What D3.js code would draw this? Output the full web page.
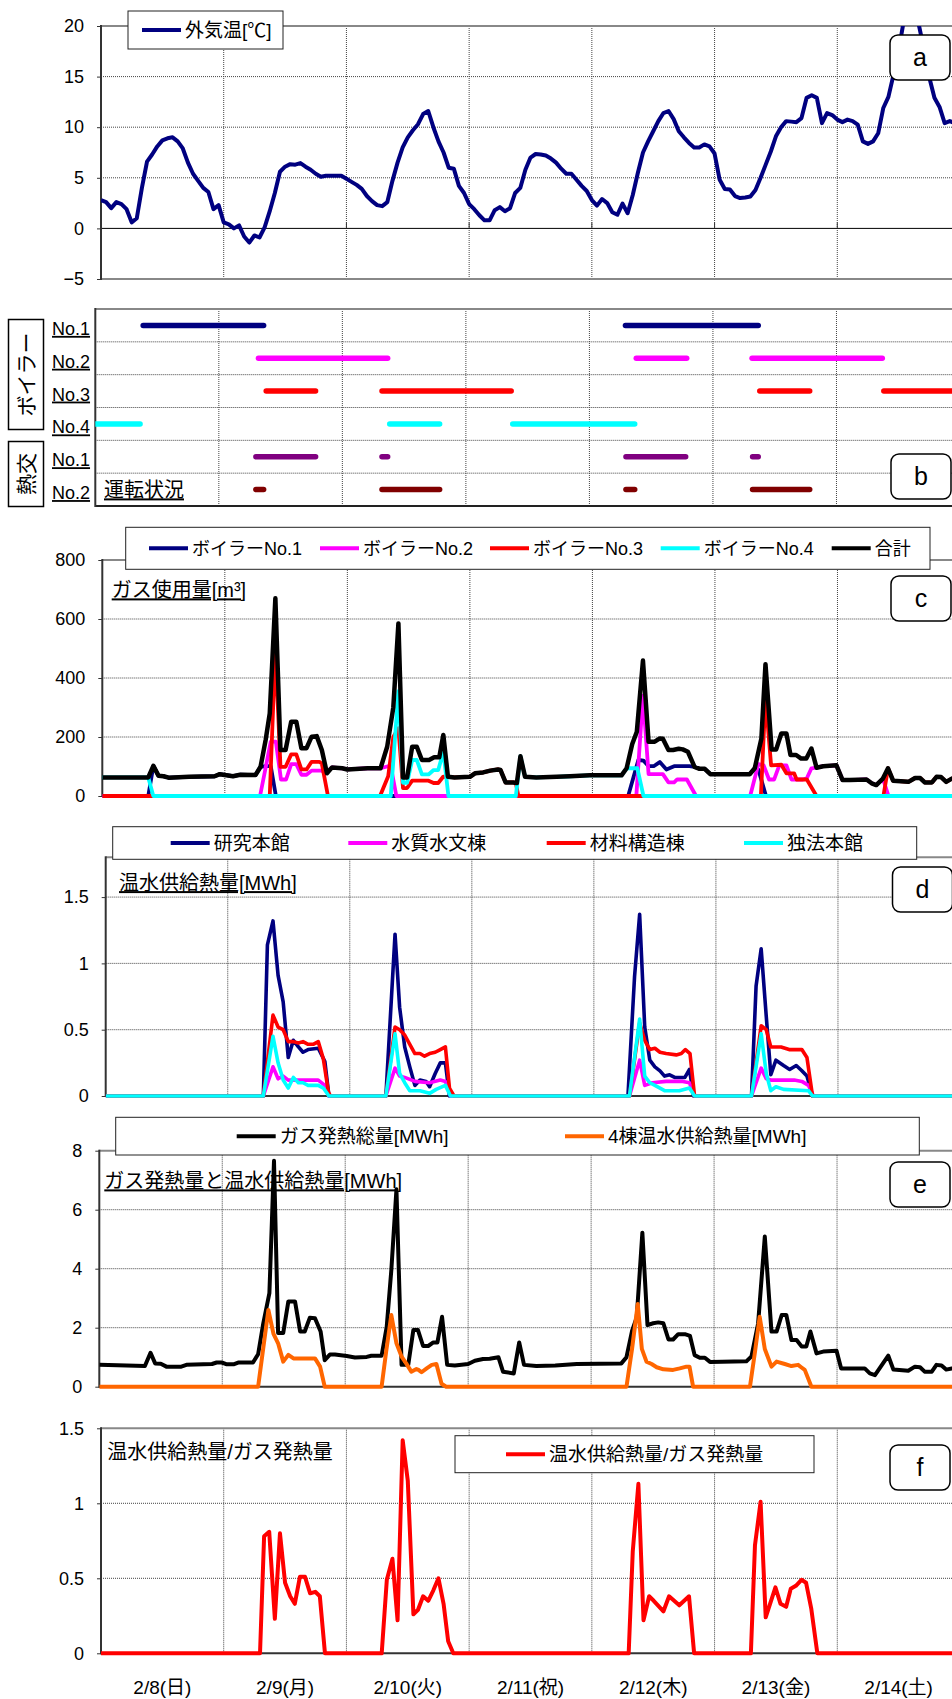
<!DOCTYPE html>
<meta charset="utf-8">
<style>
body { margin: 0; background: #fff; }
svg text { font-family: "Liberation Sans", "Noto Sans CJK JP", sans-serif; fill: #000; }
.grid { stroke: #444; stroke-dasharray: 1,1; stroke-width: 1; }
.series { fill: none; stroke-linejoin: round; }
.box { fill: #fff; stroke: #222; stroke-width: 1; }
.tag { fill: #fff; stroke: #000; stroke-width: 1.5; }
</style>
<svg width="952" height="1699"></svg>
<script src="https://d3js.org/d3.v7.min.js"></script>
<script>
// ---- data (hour 0 = 2/8 0:00) ----
var days = ["2/8(日)", "2/9(月)", "2/10(火)", "2/11(祝)", "2/12(木)", "2/13(金)", "2/14(土)"];

// a: outside temperature, hourly
var tempC = [2.8,2.6,2.0,2.6,2.4,1.9,0.6,1.0,4.0,6.6,
  7.3,8.1,8.7,8.9,9.0,8.6,7.9,6.5,5.4,4.7,
  4.0,3.6,1.9,2.3,0.6,0.4,0.0,0.3,-0.8,-1.4,
  -0.7,-0.9,0.1,1.7,3.5,5.6,6.1,6.35,6.3,6.45,
  6.1,5.8,5.4,5.1,5.2,5.2,5.2,5.2,4.9,4.6,
  4.3,3.9,3.2,2.7,2.3,2.2,2.6,4.7,6.5,8.0,
  9.0,9.7,10.3,11.3,11.6,10.0,8.6,7.5,6.0,5.9,
  4.2,3.5,2.4,1.9,1.3,0.8,0.8,1.8,2.1,1.7,
  2.0,3.5,4.0,5.8,7.0,7.35,7.3,7.2,6.9,6.5,
  5.9,5.4,5.4,4.8,4.2,3.7,2.8,2.25,2.9,2.5,
  1.6,1.35,2.45,1.5,3.3,5.5,7.5,8.6,9.6,10.6,
  11.4,11.6,10.8,9.6,9.0,8.45,8.0,8.0,8.3,8.1,
  7.4,4.8,3.9,3.85,3.2,3.0,3.05,3.15,3.8,5.0,
  6.3,7.6,9.1,10.0,10.6,10.55,10.5,10.9,12.9,13.15,
  12.9,10.4,11.4,11.2,10.75,10.5,10.75,10.6,10.25,8.6,
  8.35,8.6,9.4,11.9,13.0,15.2,17.6,20.5,21.5,21.5,
  20,17.6,14.9,12.9,12.0,10.4,10.6,10.4];

// b: running periods [start hour, end hour]
var rowNames = ["No.1", "No.2", "No.3", "No.4", "No.1", "No.2"];
var runBoiler1 = [[9.3, 32.7], [103, 128.8]];
var runBoiler2 = [[31.7, 56.8], [105.1, 114.9], [127.6, 152.9]];
var runBoiler3 = [[33.2, 42.8], [55.7, 80.8], [129.1, 138.8], [153.2, 170]];
var runBoiler4 = [[-2, 8.7], [57.2, 66.9], [81.1, 104.8]];
var runHx1 = [[31.2, 42.8], [55.7, 56.8], [103.1, 114.7], [127.7, 128.8]];
var runHx2 = [[31.2, 32.7], [55.7, 66.9], [103.1, 104.8], [127.7, 138.8]];

// c: gas use [m3], [hour, value]
var gasNames = ["ボイラーNo.1", "ボイラーNo.2", "ボイラーNo.3", "ボイラーNo.4", "合計"];
var gasB1 = [[0,0],[9,0],[10,102],[11,69],[12,67],[13,62],[17,65],[22,67],[23,74],[25.6,67],[27,72],[30,71],[31,99],[32,101],[33,101],[34,0],[103,0],[105,122],[106,120],[107,101],[108,101],[109.2,115],[110.5,90],[112,101],[115,101],[116,99],[117,92],[118,92],[119.1,74],[126.8,74],[127.8,94],[128.5,90],[130,0],[168,0]];
var gasB2 = [[0,0],[30.9,0],[33,184],[34,184],[35,56],[36,56],[37,108],[38,108],[39,72],[40,72],[41,86],[43,86],[43.6,77],[45,97],[47,94],[48,90],[52,94],[54.5,94],[55.8,100],[56.5,101],[57.6,0],[104.6,0],[105.9,340],[107,74],[109.8,74],[110.9,46],[112,46],[112.6,56],[114.5,56],[116.3,0],[126.9,0],[128.5,108],[129.5,105],[130.6,56],[131.6,56],[132.6,104],[134,104],[135,56],[137.2,56],[138,60],[138.9,94],[139.9,96],[141.2,101],[143.8,104],[145,54],[146.4,54],[149.7,56],[150.7,43],[151.6,37],[152.9,59],[154,0],[168,0]];
var gasB3 = [[0,0],[32.8,0],[33.9,500],[34.9,99],[35.9,99],[37,141],[38,141],[39,90],[40,90],[41,116],[42.5,116],[43,110],[44.2,0],[54.4,0],[56,67],[57,200],[58,230],[58.9,27],[59.7,27],[60.7,52],[63.9,52],[64.9,44],[65.8,44],[66.8,66],[67.7,65],[69,63],[72,65],[73,77],[74.6,80],[76,86],[77.5,90],[78,88],[79,46],[80.5,46],[81,44],[81.5,0],[129,0],[129.9,335],[131,104],[133,106],[134,77],[135.5,77],[136,56],[138,56],[139.9,0],[153,0],[153.9,94],[154.9,52],[157.9,48],[159.2,61],[160.2,61],[161.1,46],[162.5,46],[163.4,65],[164.3,64],[165.3,48],[166.4,59],[168,57]];
var gasB4 = [[0,63],[9,63],[10,0],[56.5,0],[58,355],[58.9,45],[59.7,45],[60.7,122],[61.6,122],[62.6,73],[63.9,73],[64.9,88],[65.8,88],[66.8,150],[67.8,0],[81,0],[81.9,135],[82.8,65],[85,63],[89,65],[91.6,67],[95.5,70],[101.7,70],[102.7,94],[104.8,94],[106,0],[168,0]];
var gasTotal = [[0,63],[9,63],[10,102],[11,69],[12,67],[13,62],[17,65],[22,67],[23,74],[25.6,67],[27,72],[30,71],[31,99],[32,190],[32.8,280],[33.9,670],[34.9,156],[35.9,156],[37,252],[38,252],[39,162],[40,162],[41,201],[42,203],[43,156],[44,77],[45,97],[47,94],[48,90],[52,94],[54.5,94],[55.8,167],[57,300],[58,585],[58.9,63],[59.7,63],[60.7,167],[61.6,167],[62.6,122],[64,122],[65,131],[66,131],[66.8,207],[67.7,65],[69,63],[72,65],[73,77],[74.6,80],[76,86],[77.5,90],[78,88],[79,46],[80.5,46],[81.2,44],[81.9,135],[82.8,65],[85,63],[89,65],[91.6,67],[95.5,70],[101.7,70],[102.7,94],[103.8,176],[104.7,218],[105.9,459],[107,184],[108.2,184],[109.2,195],[109.8,194],[110.9,156],[111.8,156],[112.9,160],[113.7,158],[114.7,150],[116,99],[117,92],[118,92],[119.1,74],[126.8,74],[127.8,94],[129.1,195],[129.9,447],[131.1,158],[132,158],[133,212],[134,212],[134.8,139],[135.9,139],[136.9,127],[137.9,127],[138.9,161],[139.9,96],[141.2,101],[143.8,104],[145,54],[146.4,54],[149.7,56],[150.7,43],[151.6,37],[152.9,59],[153.9,94],[154.9,52],[157.9,48],[159.2,61],[160.2,61],[161.1,46],[162.5,46],[163.4,65],[164.3,64],[165.3,48],[166.4,59],[168,57]];

// d: hot water heat supplied [MWh]
var bldNames = ["研究本館", "水質水文棟", "材料構造棟", "独法本館"];
var heatLab = [[0,0],[31,0],[31.8,1.14],[32.9,1.32],[33.9,0.91],[34.9,0.71],[35.9,0.29],[36.9,0.42],[37.9,0.37],[38.8,0.33],[39.8,0.35],[41.8,0.36],[43.1,0.26],[43.9,0],[55.1,0],[56.9,1.22],[57.8,0.67],[58.8,0.37],[59.8,0.22],[60.8,0.08],[61.8,0.12],[63,0.11],[63.7,0.07],[64.8,0.17],[65.8,0.25],[66.8,0.25],[67.6,0],[102.7,0],[104,0.9],[105,1.37],[106,0.52],[107,0.27],[108,0.22],[109,0.19],[109.9,0.15],[110.9,0.16],[111.9,0.14],[113.9,0.14],[114.8,0.2],[115.6,0],[127,0],[127.9,0.83],[128.9,1.11],[129.9,0.6],[130.8,0.16],[131.8,0.27],[133.3,0.23],[134.5,0.2],[135.8,0.23],[136.9,0.19],[137.9,0.15],[139,0],[168,0]];
var heatWater = [[0,0],[31,0],[32.9,0.22],[33.9,0.13],[34.9,0.15],[35.9,0.12],[41.8,0.12],[43.1,0.08],[43.9,0],[55.1,0],[56.9,0.21],[57.8,0.15],[58.8,0.14],[60.8,0.11],[63.7,0.1],[65.8,0.12],[66.8,0.11],[67.8,0],[103,0],[105,0.27],[106,0.08],[107.5,0.1],[110.2,0.11],[113.5,0.11],[114.8,0.1],[115.8,0],[127,0],[128.9,0.21],[129.9,0.13],[130.8,0.12],[132.8,0.12],[135.4,0.12],[136.9,0.11],[138.2,0.08],[139.2,0],[168,0]];
var heatMat = [[0,0],[31,0],[32.9,0.61],[33.9,0.52],[34.9,0.5],[35.9,0.41],[36.9,0.41],[37.9,0.4],[38.8,0.41],[39.8,0.39],[40.8,0.39],[41.8,0.41],[42.8,0.28],[43.8,0.03],[44.2,0],[55.1,0],[56.9,0.52],[57.8,0.5],[58.8,0.46],[59.8,0.39],[60.8,0.32],[61.8,0.32],[62.7,0.3],[63.7,0.32],[64.8,0.33],[65.8,0.35],[66.8,0.37],[67.6,0.06],[68.5,0],[103,0],[105,0.55],[106,0.42],[107,0.35],[108,0.36],[109,0.33],[110.2,0.32],[112.2,0.31],[113.2,0.32],[114,0.35],[114.9,0.32],[115.8,0],[127,0],[128.9,0.53],[129.9,0.5],[130.8,0.37],[132.8,0.37],[134.4,0.35],[136.9,0.35],[137.9,0.29],[139,0],[168,0]];
var heatMain = [[0,0],[31,0],[32.9,0.45],[33.9,0.25],[34.9,0.12],[35.9,0.06],[36.9,0.14],[37.9,0.1],[38.8,0.1],[39.8,0.08],[41.8,0.08],[42.8,0.06],[43.9,0],[55.1,0],[56.9,0.47],[57.8,0.17],[58.8,0.1],[59.8,0.04],[61.8,0.04],[63.7,0.02],[65,0.05],[66.8,0.08],[67.8,0],[103,0],[105,0.58],[106,0.15],[107,0.1],[108,0.08],[109.9,0.04],[112.8,0.04],[114.8,0.06],[115.8,0],[127,0],[128.9,0.47],[129.9,0.17],[130.8,0.04],[131.8,0.07],[133.3,0.05],[138.2,0.04],[139,0],[168,0]];

// e: gas heat total and hot water heat of 4 buildings [MWh]
var heatNames = ["ガス発熱総量[MWh]", "4棟温水供給熱量[MWh]"];
var gasHeat = [[0,0.74],[8.9,0.7],[10,1.15],[10.9,0.79],[12,0.78],[13.1,0.68],[16,0.68],[17,0.74],[22,0.77],[22.9,0.82],[23.9,0.82],[24.9,0.76],[26.2,0.76],[27.1,0.82],[30,0.82],[31,1.1],[32,2.14],[33.2,3.17],[34.1,7.66],[34.9,1.82],[35.9,1.82],[36.9,2.89],[38.2,2.89],[39.2,1.87],[40.1,1.87],[41.1,2.34],[42.1,2.32],[43.2,1.87],[44,0.9],[45,1.09],[46,1.09],[48.3,1.04],[49.9,0.99],[52.2,1.01],[53.1,1.05],[55.1,1.05],[56.1,2.03],[57,3.95],[58,6.69],[59,0.74],[60.3,0.74],[61.3,1.92],[62.2,1.92],[63.2,1.38],[64.2,1.38],[65.2,1.5],[66,1.5],[66.9,2.37],[67.9,0.74],[69.4,0.72],[72,0.77],[73.3,0.88],[74.9,0.94],[76.2,0.95],[77.9,1.0],[78.8,0.51],[80.9,0.45],[81.96,1.5],[82.9,0.74],[85.3,0.7],[89,0.72],[93.2,0.77],[101.9,0.79],[102.9,1.0],[104,1.9],[104.9,2.35],[106,5.22],[107,2.09],[108.1,2.15],[109.1,2.18],[110.1,2.15],[111.1,1.6],[112,1.6],[113,1.78],[114.3,1.78],[115.3,1.72],[116.2,1.07],[117.2,0.98],[118.2,0.98],[119.2,0.84],[126.3,0.86],[127.3,1.03],[128.6,2.15],[129.9,5.09],[131.2,1.87],[132.2,1.87],[133.2,2.43],[134.1,2.43],[135.1,1.58],[136.1,1.58],[137.1,1.36],[138,1.36],[138.8,1.87],[140,1.13],[141.3,1.19],[143.9,1.22],[144.8,0.62],[146.4,0.62],[149.4,0.62],[150.4,0.45],[151.4,0.39],[152.3,0.62],[154,1.05],[155,0.58],[157.9,0.54],[159.2,0.68],[160.2,0.66],[161.1,0.51],[162.5,0.51],[163.4,0.74],[164.4,0.72],[165.3,0.58],[166.4,0.62],[168,0.6]];
var hotWater = [[0,0],[31,0],[32,1.3],[33,2.6],[34,1.79],[34.9,1.47],[35.9,0.85],[36.9,1.08],[37.9,0.96],[42.1,0.96],[43.1,0.68],[44,0],[55.1,0],[56,1.2],[57,2.43],[58,1.47],[59,1.02],[59.9,0.79],[60.9,0.51],[61.9,0.6],[62.3,0.57],[62.9,0.49],[63.9,0.62],[64.9,0.74],[65.8,0.77],[66.8,0.1],[67.7,0],[102.9,0],[104,1.3],[105.1,2.8],[105.9,1.28],[106.8,0.85],[107.8,0.77],[108.8,0.66],[110.1,0.59],[112,0.57],[113.3,0.62],[114.6,0.68],[115.2,0.68],[115.9,0],[127,0],[128,1.2],[128.9,2.37],[129.9,1.28],[131.2,0.68],[132.2,0.85],[133.8,0.77],[135.1,0.7],[136.4,0.74],[137,0.66],[137.7,0.57],[139,0],[168,0]];

// f: hot water heat / gas heat
var ratioName = "温水供給熱量/ガス発熱量";
var ratio = [[0,0],[31.1,0],[31.9,0.78],[32.9,0.81],[34,0.23],[35,0.8],[36,0.47],[37,0.38],[37.9,0.33],[38.9,0.51],[39.9,0.51],[40.9,0.4],[41.9,0.41],[42.8,0.38],[43.8,0],[54.9,0],[55.9,0.49],[57,0.63],[58,0.22],[59,1.42],[60,1.15],[61.1,0.26],[62,0.29],[63,0.38],[64,0.35],[65,0.42],[66,0.5],[67,0.33],[67.9,0.08],[68.9,0],[103.2,0],[104,0.68],[105.1,1.13],[106.1,0.22],[107.2,0.38],[108.1,0.35],[110,0.28],[111.1,0.38],[113.1,0.32],[115,0.38],[116,0],[127.1,0],[127.9,0.72],[129,1.01],[130,0.24],[131.9,0.44],[132.9,0.33],[134,0.31],[134.9,0.43],[135.9,0.45],[137,0.49],[137.9,0.47],[138.9,0.3],[140.1,0],[168,0]];

// ---- drawing ----
var svg = d3.select("svg");
svg.append("rect").attr("width", 952).attr("height", 1699).attr("fill", "#fff");
var fmt = d3.format("~g");

function plot(o) {
  var x = d3.scaleLinear().domain([0, 168]).range([o.left, 960]);
  var y = d3.scaleLinear().domain(o.domain).range([o.bottom, o.top]);
  var g = svg.append("g");
  svg.append("clipPath").attr("id", "clip-" + o.id).append("rect")
    .attr("x", o.left).attr("y", o.top).attr("width", 960 - o.left).attr("height", o.bottom - o.top + 6);

  g.selectAll(null).data(d3.range(24, 168, 24)).join("line").attr("class", "grid")
    .attr("x1", d => x(d)).attr("x2", d => x(d)).attr("y1", o.top).attr("y2", o.bottom);
  g.selectAll(null).data(o.grid).join("line").attr("class", "grid")
    .attr("x1", o.left).attr("x2", 960).attr("y1", d => y(d)).attr("y2", d => y(d));

  g.append("line").attr("x1", o.left).attr("x2", 960).attr("y1", o.top).attr("y2", o.top)
    .attr("stroke", "#888").attr("stroke-width", 2);
  g.append("line").attr("x1", o.left).attr("x2", 960).attr("y1", o.bottom).attr("y2", o.bottom)
    .attr("stroke", o.zero ? "#888" : "#333").attr("stroke-width", 2);
  if (o.zero) {
    g.append("line").attr("x1", o.left).attr("x2", 960).attr("y1", y(0)).attr("y2", y(0))
      .attr("stroke", "#000").attr("stroke-width", 1);
    g.selectAll(null).data(d3.range(24, 168, 24)).join("line")
      .attr("x1", d => x(d)).attr("x2", d => x(d)).attr("y1", y(0) - 6).attr("y2", y(0))
      .attr("stroke", "#333");
  }
  g.append("line").attr("x1", o.left).attr("x2", o.left).attr("y1", o.top - 1).attr("y2", o.bottom + 1)
    .attr("stroke", "#333").attr("stroke-width", 2);

  var ax = g.append("g").attr("transform", "translate(" + o.left + ",0)")
    .call(d3.axisLeft(y).tickValues(o.ticks).tickSize(4).tickPadding(13).tickFormat(fmt));
  ax.select(".domain").remove();
  ax.selectAll("line").attr("stroke", "#333");
  ax.selectAll("text").attr("font-size", 18).attr("font-family", null);

  var s = svg.append("g").attr("clip-path", "url(#clip-" + o.id + ")");
  return { x: x, y: y, s: s };
}

function series(p, data, color, w) {
  p.s.append("path").datum(data).attr("class", "series")
    .attr("d", d3.line().x(d => p.x(d[0])).y(d => p.y(d[1])))
    .attr("stroke", color).attr("stroke-width", w);
}

function legendBox(bx, by, bw, bh, names, colors, starts, fs) {
  svg.append("rect").attr("class", "box").attr("x", bx).attr("y", by).attr("width", bw).attr("height", bh);
  var cy = by + bh / 2;
  names.forEach(function (n, i) {
    svg.append("line").attr("x1", starts[i]).attr("x2", starts[i] + 39).attr("y1", cy).attr("y2", cy)
      .attr("stroke", colors[i]).attr("stroke-width", 4);
    svg.append("text").attr("x", starts[i] + 43).attr("y", cy).attr("dy", "0.37em")
      .attr("font-size", fs).text(n);
  });
}

function tag(tx, ty, letter) {
  svg.append("rect").attr("class", "tag").attr("x", tx).attr("y", ty).attr("width", 60).attr("height", 45)
    .attr("rx", 8);
  svg.append("text").attr("x", tx + 30).attr("y", ty + 22.5).attr("dy", "0.33em")
    .attr("text-anchor", "middle").attr("font-size", 25).text(letter);
}

function title(tx, ty, str, under) {
  svg.append("text").attr("x", tx).attr("y", ty).attr("dy", "0.37em").attr("font-size", 20)
    .style("text-decoration", under ? "underline" : "none").text(str);
}

// a
var pa = plot({ id: "a", left: 101, top: 26, bottom: 279, domain: [-5, 20], ticks: [-5, 0, 5, 10, 15, 20], grid: [5, 10, 15], zero: true });
series(pa, tempC.map((v, i) => [i, v]), "#000080", 4);
legendBox(128, 11, 155, 38, ["外気温[℃]"], ["#000080"], [142], 19);
tag(890, 35, "a");

// b
var xb = d3.scaleLinear().domain([0, 168]).range([95.3, 960]);
var yb = d3.scaleBand().domain(d3.range(6)).range([309, 506]);
var gb = svg.append("g");
gb.selectAll(null).data(d3.range(24, 168, 24)).join("line").attr("class", "grid")
  .attr("x1", d => xb(d)).attr("x2", d => xb(d)).attr("y1", 309).attr("y2", 506);
gb.selectAll(null).data(d3.range(1, 6)).join("line").attr("class", "grid")
  .attr("x1", 95.3).attr("x2", 960).attr("y1", d => yb(d)).attr("y2", d => yb(d));
gb.append("line").attr("x1", 95.3).attr("x2", 960).attr("y1", 309).attr("y2", 309).attr("stroke", "#888").attr("stroke-width", 2);
gb.append("line").attr("x1", 95.3).attr("x2", 960).attr("y1", 506).attr("y2", 506).attr("stroke", "#222").attr("stroke-width", 2);
gb.append("line").attr("x1", 95.3).attr("x2", 95.3).attr("y1", 308).attr("y2", 507).attr("stroke", "#333").attr("stroke-width", 2);
svg.append("clipPath").attr("id", "clip-b").append("rect").attr("x", 95.3).attr("y", 309).attr("width", 865).attr("height", 197);
var runs = [runBoiler1, runBoiler2, runBoiler3, runBoiler4, runHx1, runHx2];
var runColors = ["#000080", "#FF00FF", "#FF0000", "#00FFFF", "#800080", "#800000"];
var bars = svg.append("g").attr("clip-path", "url(#clip-b)");
runs.forEach(function (r, i) {
  bars.selectAll(null).data(r).join("line")
    .attr("x1", d => xb(d[0])).attr("x2", d => xb(d[1]))
    .attr("y1", yb(i) + yb.bandwidth() / 2).attr("y2", yb(i) + yb.bandwidth() / 2)
    .attr("stroke", runColors[i]).attr("stroke-width", 5.5).attr("stroke-linecap", "round");
});
rowNames.forEach(function (n, i) {
  svg.append("text").attr("x", 52).attr("y", yb(i) + yb.bandwidth() / 2 + 3).attr("dy", "0.36em")
    .attr("font-size", 18).style("text-decoration", "underline").text(n);
});
svg.append("rect").attr("x", 8.5).attr("y", 319.5).attr("width", 35).attr("height", 110).attr("fill", "#fff").attr("stroke", "#000").attr("stroke-width", 1.5);
svg.append("rect").attr("x", 8.5).attr("y", 441.5).attr("width", 35).attr("height", 65).attr("fill", "#fff").attr("stroke", "#000").attr("stroke-width", 1.5);
svg.append("text").attr("transform", "translate(26,374.5) rotate(-90)").attr("text-anchor", "middle").attr("dy", "0.36em")
  .attr("font-size", 21).text("ボイラー");
svg.append("text").attr("transform", "translate(26,474) rotate(-90)").attr("text-anchor", "middle").attr("dy", "0.36em")
  .attr("font-size", 21).text("熱交");
svg.append("text").attr("x", 104).attr("y", 490).attr("dy", "0.37em").attr("font-size", 20)
  .style("text-decoration", "underline").text("運転状況");
tag(891, 454, "b");

// c
var pc = plot({ id: "c", left: 102.3, top: 560, bottom: 796, domain: [0, 800], ticks: [0, 200, 400, 600, 800], grid: [200, 400, 600] });
title(111.7, 590, "ガス使用量[m³]", true);
var gasColors = ["#000080", "#FF00FF", "#FF0000", "#00FFFF", "#000000"];
[gasB1, gasB2, gasB3, gasB4, gasTotal].forEach(function (d, i) { series(pc, d, gasColors[i], i === 4 ? 4.5 : 3.8); });
legendBox(125.7, 527.3, 804.3, 42, gasNames, gasColors, [149, 320, 490, 660.7, 831.7], 18);
tag(891, 576, "c");

// d
var pd = plot({ id: "d", left: 105.7, top: 857.3, bottom: 1096, domain: [0, 1.8], ticks: [0, 0.5, 1, 1.5], grid: [0.5, 1, 1.5] });
title(119, 882.7, "温水供給熱量[MWh]", true);
var bldColors = ["#000080", "#FF00FF", "#FF0000", "#00FFFF"];
[heatLab, heatWater, heatMat, heatMain].forEach(function (d, i) { series(pd, d, bldColors[i], 3.6); });
legendBox(112.7, 826.7, 804, 32.6, bldNames, bldColors, [170.7, 348.3, 546.7, 744], 19);
tag(892.5, 867, "d");

// e
var pe = plot({ id: "e", left: 99.3, top: 1150.7, bottom: 1386.7, domain: [0, 8], ticks: [0, 2, 4, 6, 8], grid: [2, 4, 6] });
title(104.3, 1181, "ガス発熱量と温水供給熱量[MWh]", true);
series(pe, gasHeat, "#000000", 4);
series(pe, hotWater, "#FF6600", 4);
legendBox(115.7, 1117.3, 803.6, 37.7, heatNames, ["#000000", "#FF6600"], [236.7, 565], 19);
tag(890, 1162, "e");

// f
var pf = plot({ id: "f", left: 101, top: 1428.3, bottom: 1653.3, domain: [0, 1.5], ticks: [0, 0.5, 1, 1.5], grid: [0.5, 1] });
title(107.3, 1451.7, ratioName, false);
series(pf, ratio, "#FF0000", 4);
legendBox(455, 1435.7, 359, 37, [ratioName], ["#FF0000"], [506], 19);
tag(890, 1445, "f");
svg.selectAll(null).data(days).join("text")
  .attr("x", (d, i) => pf.x(12 + 24 * i)).attr("y", 1686.7).attr("dy", "0.36em")
  .attr("text-anchor", "middle").attr("font-size", 19).text(d => d);
</script>
